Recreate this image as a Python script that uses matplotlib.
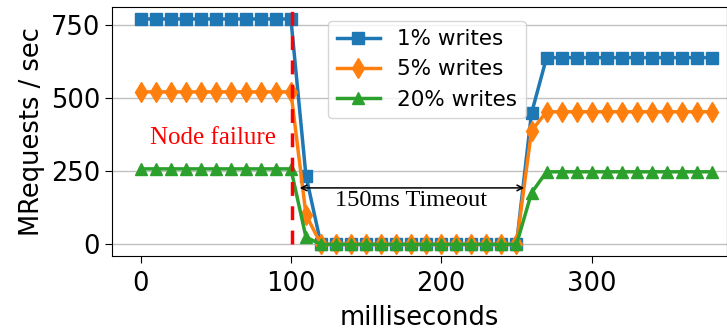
import matplotlib
matplotlib.use('Agg')
import matplotlib.pyplot as plt

# time in milliseconds
ms = [0, 10, 20, 30, 40, 50, 60, 70, 80, 90, 100, 110, 120, 130, 140, 150, 160,
      170, 180, 190, 200, 210, 220, 230, 240, 250, 260, 270, 280, 290, 300, 310,
      320, 330, 340, 350, 360, 370, 380]

w1 = [770] * 11 + [235] + [0] * 14 + [448] + [638] * 12
w5 = [521] * 11 + [102] + [0] * 14 + [388] + [453] * 12
w20 = [258] * 11 + [25] + [0] * 14 + [176] + [248] * 12

labels = ['1% writes', '5% writes', '20% writes']

fig = plt.figure(figsize=(7.27, 3.31), dpi=100)
ax = fig.add_axes([0.154, 0.228, 0.846, 0.75])

ax.plot(ms, w1, marker='s', markersize=9, linewidth=2.5, color='#1f77b4', label=labels[0])
ax.plot(ms, w5, marker='d', markersize=10, linewidth=2.5, color='#ff7f0e', label=labels[1])
ax.plot(ms, w20, marker='^', markersize=9, linewidth=2.5, color='#2ca02c', label=labels[2])

ax.set_xlim(-19, 390)
ax.set_ylim(-38, 810)
ax.set_xticks([0, 100, 200, 300])
ax.set_yticks([0, 250, 500, 750])
ax.tick_params(labelsize=18.5, length=5)
ax.tick_params(axis='x', pad=6)
ax.grid(axis='y', color='#c0c0c0', linewidth=1)
ax.set_axisbelow(True)

ax.set_xlabel('milliseconds', fontsize=18.5, labelpad=6)
ax.set_ylabel('MRequests / sec', fontsize=18.5, labelpad=4)

# node failure marker
ax.vlines(101, 0, 810, colors='red', linestyles=(0, (4, 3)), linewidth=2.5, zorder=5)
ax.text(48, 365, 'Node failure', color='red', fontsize=18, family='Liberation Serif',
        ha='center', va='center')

# timeout arrow
ax.annotate('', xy=(104, 193), xytext=(257, 193),
            arrowprops=dict(arrowstyle='<->', color='black', lw=1.1), zorder=6)
ax.text(180, 150, '150ms Timeout', fontsize=17.5, family='Liberation Serif',
        ha='center', va='center')

ax.legend(loc='upper left', bbox_to_anchor=(0.334, 0.99), fontsize=15.5,
          handlelength=2, borderpad=0.4, labelspacing=0.48)

fig.savefig('out.png')
